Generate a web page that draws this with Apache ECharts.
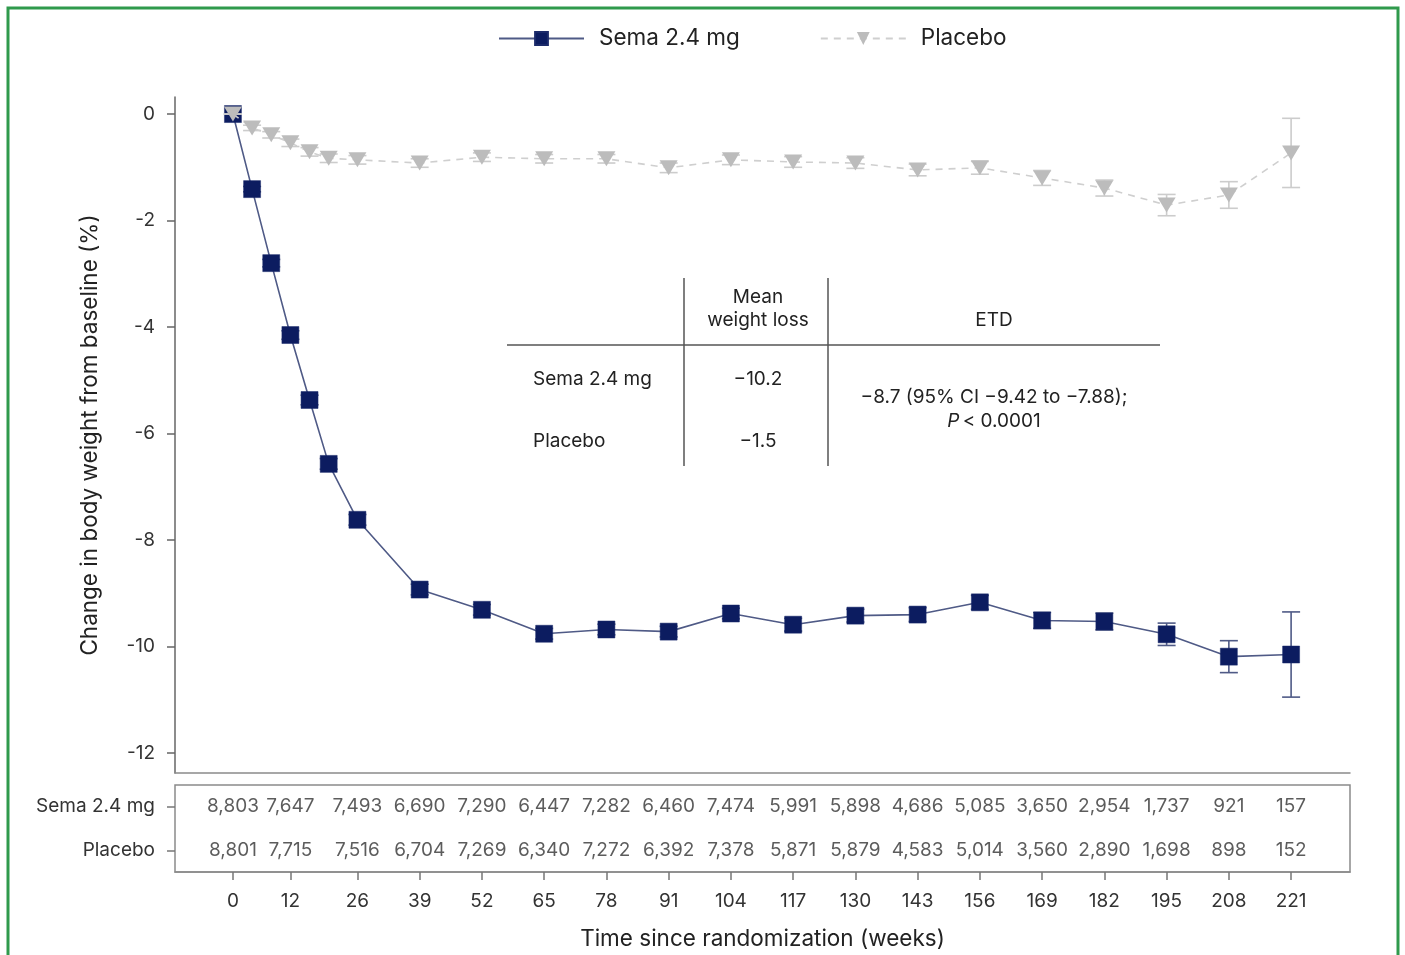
<!DOCTYPE html>
<html>
<head>
<meta charset="utf-8">
<script src="https://cdn.jsdelivr.net/npm/echarts@6/dist/echarts.min.js"></script>
<style>
html,body{margin:0;padding:0;background:#fff;}
#c{width:1405px;height:955px;}
</style>
</head>
<body>
<div id="c"></div>
<script>
// ---- data ----
const weeks = [0,4,8,12,16,20,26,39,52,65,78,91,104,117,130,143,156,169,182,195,208,221];
const semaMean = [0,-1.41,-2.80,-4.15,-5.37,-6.57,-7.62,-8.93,-9.31,-9.76,-9.68,-9.72,-9.38,-9.59,-9.42,-9.40,-9.17,-9.51,-9.53,-9.77,-10.19,-10.15];
const semaErr = [0,0.05,0.07,0.08,0.09,0.10,0.10,0.10,0.10,0.10,0.10,0.10,0.10,0.12,0.12,0.13,0.13,0.15,0.16,0.21,0.30,0.80];
const placeboMean = [0,-0.26,-0.39,-0.54,-0.71,-0.83,-0.86,-0.92,-0.81,-0.84,-0.84,-1.01,-0.86,-0.90,-0.92,-1.05,-1.01,-1.20,-1.39,-1.71,-1.52,-0.73];
const placeboErr = [0,0.05,0.06,0.07,0.08,0.08,0.08,0.08,0.08,0.08,0.08,0.09,0.09,0.10,0.10,0.11,0.12,0.14,0.15,0.20,0.25,0.65];
const xTicks = [0,12,26,39,52,65,78,91,104,117,130,143,156,169,182,195,208,221];
const yTicks = [0,-2,-4,-6,-8,-10,-12];
const riskRows = ['Sema 2.4 mg','Placebo'];
const semaN = [8803,7647,7493,6690,7290,6447,7282,6460,7474,5991,5898,4686,5085,3650,2954,1737,921,157];
const placeboN = [8801,7715,7516,6704,7269,6340,7272,6392,7378,5871,5879,4583,5014,3560,2890,1698,898,152];
const insetHeader = ['Mean\nweight loss','ETD'];
const insetRows = ['Sema 2.4 mg','Placebo'];
const insetLoss = ['\u221210.2','\u22121.5'];
const insetETD = ['\u22128.7 (95% CI \u22129.42 to \u22127.88);','P < 0.0001'];

const FONT = 'Inter';
const NAVY = '#0c1c60';
const NAVY_LINE = '#4f5a86';
const GREY = '#bcbcbc';
const GREY_LINE = '#cfcfcf';
const XMIN = -12.1, XMAX = 233.3;
const TICKFS = 19;
const NAMEFS = 22.5;
const INSETFS = 19;

const chart = echarts.init(document.getElementById('c'), null, {renderer:'canvas'});

function errBar(color) {
  return function(params, api) {
    const x = api.value(0), lo = api.value(1), hi = api.value(2);
    const p1 = api.coord([x, hi]), p2 = api.coord([x, lo]);
    const hw = 9;
    const st = {stroke: color, lineWidth: 1.6};
    return {type:'group', children:[
      {type:'line', shape:{x1:p1[0],y1:p1[1],x2:p2[0],y2:p2[1]}, style:st},
      {type:'line', shape:{x1:p1[0]-hw,y1:p1[1],x2:p1[0]+hw,y2:p1[1]}, style:st},
      {type:'line', shape:{x1:p2[0]-hw,y1:p2[1],x2:p2[0]+hw,y2:p2[1]}, style:st}
    ]};
  };
}

const triPath = 'path://M0,0 L20,0 L10,17 Z';

const option = {
  backgroundColor:'#fff',
  animation:false,
  textStyle:{fontFamily:FONT},
  legend:{
    data:[{name:'Sema 2.4 mg'},{name:'Placebo'}],
    left:498, top:27, padding:0,
    itemWidth:85, itemHeight:16, itemGap:80,
    textStyle:{fontSize:NAMEFS, color:'#222', fontFamily:FONT, padding:[0,0,0,10]}
  },
  grid:[
    {left:175, right:55, top:97, bottom:182},
    {left:175, right:55, top:785, height:87, show:true, borderColor:'#8a8a8a', borderWidth:1.5}
  ],
  xAxis:[
    {gridIndex:0, type:'value', min:XMIN, max:XMAX,
     axisLine:{show:true, onZero:false, lineStyle:{color:'#8a8a8a', width:1.5}},
     axisTick:{show:false}, axisLabel:{show:false}, splitLine:{show:false}},
    {gridIndex:1, type:'value', min:XMIN, max:XMAX,
     axisLine:{show:true, onZero:false, lineStyle:{color:'#8a8a8a', width:1.5}},
     axisTick:{show:true, length:8, customValues:xTicks, lineStyle:{color:'#777', width:1.5}},
     axisLabel:{show:true, customValues:xTicks, fontSize:TICKFS, color:'#333', margin:20, fontFamily:FONT},
     splitLine:{show:false},
     name:'Time since randomization (weeks)', nameLocation:'middle', nameGap:56,
     nameTextStyle:{fontSize:NAMEFS, color:'#222', fontFamily:FONT}}
  ],
  yAxis:[
    {gridIndex:0, type:'value', min:-12.375, max:0.32,
     axisLine:{show:true, onZero:false, lineStyle:{color:'#666', width:1.5}},
     axisTick:{show:true, length:8, customValues:yTicks, lineStyle:{color:'#666', width:1.5}},
     axisLabel:{show:true, customValues:yTicks, fontSize:TICKFS, color:'#333', margin:20, fontFamily:FONT},
     splitLine:{show:false},
     name:'Change in body weight from baseline (%)', nameLocation:'middle', nameGap:73,
     nameTextStyle:{fontSize:NAMEFS, color:'#222', fontFamily:FONT}},
    {gridIndex:1, type:'category', data:riskRows, inverse:true,
     axisLine:{show:false, onZero:false},
     axisTick:{show:true, length:8, alignWithLabel:true, lineStyle:{color:'#777', width:1.5}},
     axisLabel:{show:true, fontSize:TICKFS, color:'#333', margin:20, fontFamily:FONT},
     splitLine:{show:false}}
  ],
  series:[
    {name:'Sema 2.4 mg err', type:'custom', xAxisIndex:0, yAxisIndex:0, z:2,
     renderItem:errBar(NAVY_LINE), data:weeks.map((w,i)=>[w, semaMean[i]-semaErr[i], semaMean[i]+semaErr[i]]),
     silent:true},
    {name:'Sema 2.4 mg', type:'line', xAxisIndex:0, yAxisIndex:0, z:3,
     data:weeks.map((w,i)=>[w, semaMean[i]]),
     symbol:'rect', symbolSize:17,
     itemStyle:{color:NAVY, borderColor:'#1b2a6a', borderWidth:0.5},
     lineStyle:{color:NAVY_LINE, width:1.6}},
    {name:'Placebo err', type:'custom', xAxisIndex:0, yAxisIndex:0, z:4,
     renderItem:errBar('#cccccc'), data:weeks.map((w,i)=>[w, placeboMean[i]-placeboErr[i], placeboMean[i]+placeboErr[i]]),
     silent:true},
    {name:'Placebo', type:'line', xAxisIndex:0, yAxisIndex:0, z:5,
     data:weeks.map((w,i)=>[w, placeboMean[i]]),
     symbol:triPath, symbolSize:[18,15],
     itemStyle:{color:GREY},
     lineStyle:{color:GREY_LINE, width:1.6, type:[7,6]}},
    {name:'riskSema', type:'scatter', xAxisIndex:1, yAxisIndex:1,
     data:xTicks.map((w,i)=>[w, 0, semaN[i]]), symbolSize:1, itemStyle:{color:'rgba(0,0,0,0)'},
     label:{show:true, position:'inside', fontSize:TICKFS, color:'#333', fontFamily:FONT,
            formatter:p=>p.value[2].toLocaleString('en-US')}},
    {name:'riskPlacebo', type:'scatter', xAxisIndex:1, yAxisIndex:1,
     data:xTicks.map((w,i)=>[w, 1, placeboN[i]]), symbolSize:1, itemStyle:{color:'rgba(0,0,0,0)'},
     label:{show:true, position:'inside', fontSize:TICKFS, color:'#333', fontFamily:FONT,
            formatter:p=>p.value[2].toLocaleString('en-US')}}
  ],
  graphic:[
    {type:'rect', shape:{x:8, y:8, width:1390, height:960}, style:{fill:'none', stroke:'#2f9a4c', lineWidth:3}, z:100},
    {type:'line', shape:{x1:684,y1:278,x2:684,y2:466}, style:{stroke:'#555', lineWidth:1.5}},
    {type:'line', shape:{x1:828,y1:278,x2:828,y2:466}, style:{stroke:'#555', lineWidth:1.5}},
    {type:'line', shape:{x1:507,y1:345,x2:1160,y2:345}, style:{stroke:'#555', lineWidth:1.5}},
    {type:'text', x:758, y:309, style:{text:insetHeader[0], fontSize:INSETFS, fontFamily:FONT, fill:'#222', align:'center', verticalAlign:'middle', lineHeight:23}},
    {type:'text', x:994, y:320, style:{text:insetHeader[1], fontSize:INSETFS, fontFamily:FONT, fill:'#222', align:'center', verticalAlign:'middle'}},
    {type:'text', x:533, y:379, style:{text:insetRows[0], fontSize:INSETFS, fontFamily:FONT, fill:'#222', align:'left', verticalAlign:'middle'}},
    {type:'text', x:533, y:441, style:{text:insetRows[1], fontSize:INSETFS, fontFamily:FONT, fill:'#222', align:'left', verticalAlign:'middle'}},
    {type:'text', x:758, y:379, style:{text:insetLoss[0], fontSize:INSETFS, fontFamily:FONT, fill:'#222', align:'center', verticalAlign:'middle'}},
    {type:'text', x:758, y:441, style:{text:insetLoss[1], fontSize:INSETFS, fontFamily:FONT, fill:'#222', align:'center', verticalAlign:'middle'}},
    {type:'text', x:994, y:397, style:{text:insetETD[0], fontSize:INSETFS, fontFamily:FONT, fill:'#222', align:'center', verticalAlign:'middle'}},
    {type:'text', x:994, y:421, style:{
      text:'{i|P} {n|< 0.0001}', align:'center', verticalAlign:'middle',
      rich:{i:{fontSize:INSETFS, fontFamily:FONT, fontStyle:'italic', fill:'#222'}, n:{fontSize:INSETFS, fontFamily:FONT, fill:'#222'}}}}
  ]
};
chart.setOption(option);
</script>
</body>
</html>
